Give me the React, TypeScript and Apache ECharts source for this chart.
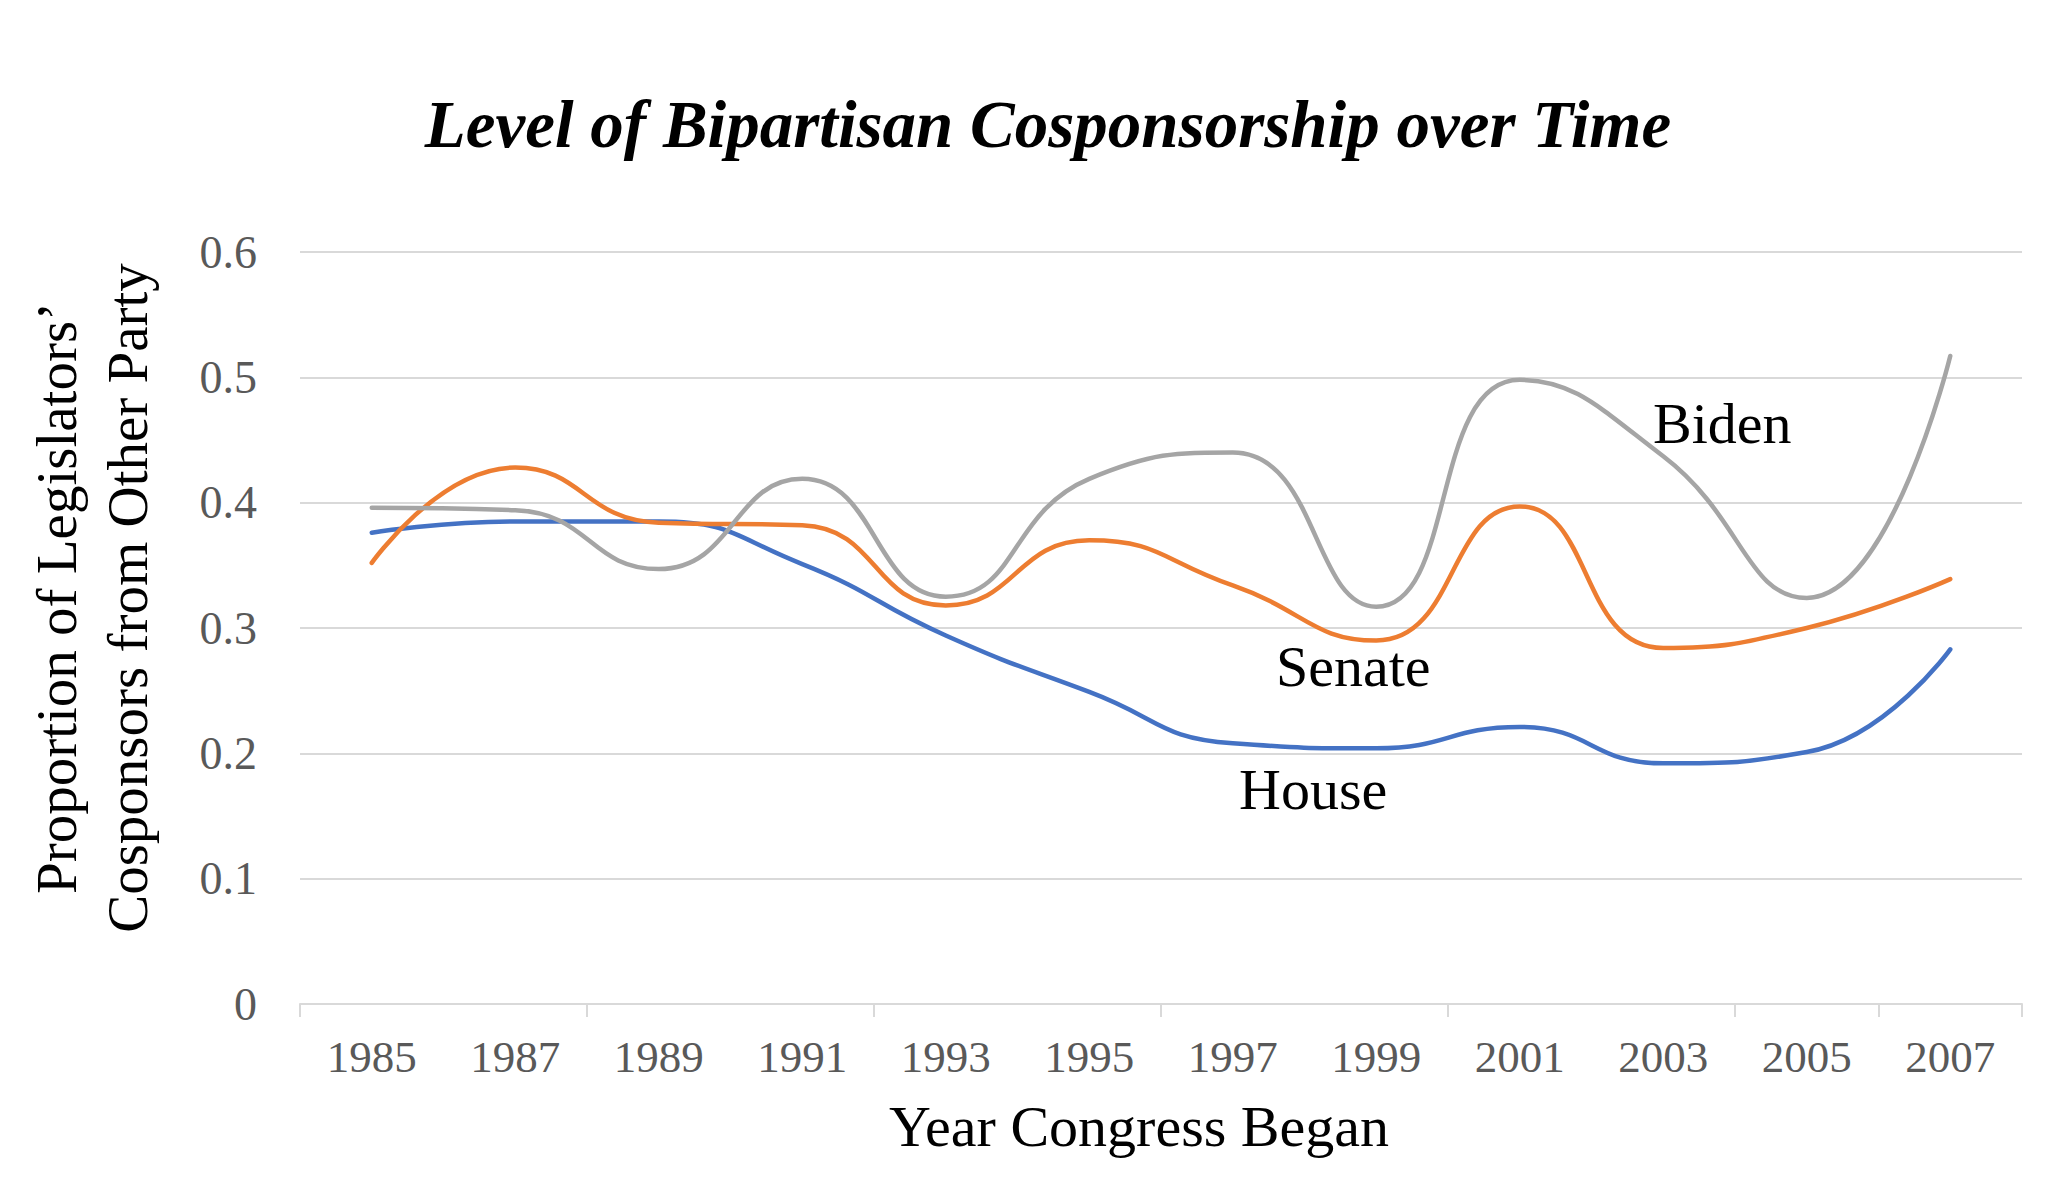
import React, { useEffect, useRef } from "react";
import * as echarts from "echarts";

const years = ["1985", "1987", "1989", "1991", "1993", "1995", "1997", "1999", "2001", "2003", "2005", "2007"];
const house = [0.376, 0.385, 0.385, 0.351, 0.294, 0.249, 0.208, 0.204, 0.221, 0.192, 0.201, 0.283];
const senate = [0.352, 0.428, 0.384, 0.382, 0.318, 0.370, 0.334, 0.290, 0.397, 0.284, 0.300, 0.339];
const biden = [0.396, 0.394, 0.347, 0.419, 0.325, 0.419, 0.440, 0.317, 0.498, 0.437, 0.324, 0.517];
const yTicks = { min: 0, max: 0.6, interval: 0.1 };

const SERIF = "'Liberation Serif', 'Times New Roman', serif";

export default function App() {
  const ref = useRef<HTMLDivElement>(null);
  useEffect(() => {
    if (!ref.current) return;
    const chart = echarts.init(ref.current, null, { renderer: "svg" });
    const lineSeries = (name: string, data: number[], color: string) => ({
      name,
      type: "line",
      data,
      smooth: 0.5,
      showSymbol: false,
      symbol: "none",
      lineStyle: { color, width: 4.5, cap: "round" },
      itemStyle: { color },
    });
    chart.setOption({
      animation: false,
      backgroundColor: "#ffffff",
      title: {
        text: "Level of Bipartisan Cosponsorship over Time",
        left: 1043,
        top: 119,
        textAlign: "center",
        textVerticalAlign: "middle",
        textStyle: { fontFamily: SERIF, fontSize: 67, fontWeight: "bold", fontStyle: "italic", color: "#000" },
      },
      grid: { left: 300, right: 26, top: 252, bottom: 190, containLabel: false },
      xAxis: {
        type: "category",
        data: years,
        boundaryGap: true,
        axisLine: { show: true, lineStyle: { color: "#d9d9d9", width: 2 } },
        axisTick: { show: true, interval: 1, length: 13, lineStyle: { color: "#d9d9d9", width: 2 } },
        axisLabel: { interval: 0, margin: 30, fontFamily: SERIF, fontSize: 45, color: "#595959" },
        splitLine: { show: false },
      },
      yAxis: {
        type: "value",
        min: yTicks.min,
        max: yTicks.max,
        interval: yTicks.interval,
        axisLine: { show: false },
        axisTick: { show: false },
        axisLabel: {
          margin: 43,
          fontFamily: SERIF,
          fontSize: 46,
          color: "#595959",
          formatter: (v: number) => (v === 0 ? "0" : v.toFixed(1)),
        },
        splitLine: { show: true, lineStyle: { color: "#d9d9d9", width: 2 } },
      },
      series: [
        lineSeries("House", house, "#4472C4"),
        lineSeries("Senate", senate, "#ED7D31"),
        lineSeries("Biden", biden, "#A5A5A5"),
      ],
      graphic: [
        {
          type: "text",
          x: 92,
          y: 598,
          rotation: Math.PI / 2,
          style: {
            text: "Proportion of Legislators’\nCosponsors from Other Party",
            fontFamily: SERIF,
            fontSize: 57,
            lineHeight: 71,
            fill: "#000",
            align: "center",
            verticalAlign: "middle",
          },
        },
        {
          type: "text",
          x: 1139,
          y: 1126,
          style: {
            text: "Year Congress Began",
            fontFamily: SERIF,
            fontSize: 58,
            fill: "#000",
            align: "center",
            verticalAlign: "middle",
          },
        },
        {
          type: "text",
          x: 1653,
          y: 423,
          style: { text: "Biden", fontFamily: SERIF, fontSize: 58, fill: "#000", align: "left", verticalAlign: "middle" },
        },
        {
          type: "text",
          x: 1276,
          y: 666,
          style: { text: "Senate", fontFamily: SERIF, fontSize: 58, fill: "#000", align: "left", verticalAlign: "middle" },
        },
        {
          type: "text",
          x: 1239,
          y: 789,
          style: { text: "House", fontFamily: SERIF, fontSize: 58, fill: "#000", align: "left", verticalAlign: "middle" },
        },
      ],
    });
    return () => chart.dispose();
  }, []);
  return (
    <div
      ref={ref}
      style={{ position: "fixed", left: 0, top: 0, width: 2048, height: 1194, background: "#fff" }}
    />
  );
}
